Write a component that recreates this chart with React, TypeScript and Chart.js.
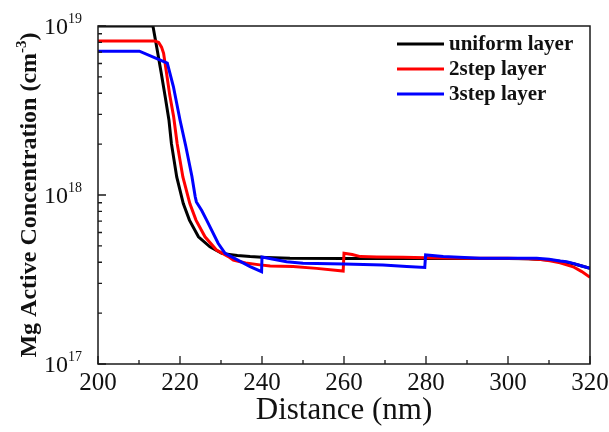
import React, { useEffect, useRef } from "react";
import { Chart, registerables } from "chart.js";

Chart.register(...registerables);

// ---------- data ----------
const uniformX = [200, 213.4, 214.4, 215.4, 216.4, 217.3, 217.9, 219.2, 220.8, 222.3, 224.5, 227.3, 230.2, 232, 234, 237.1, 241, 246.8, 260, 280, 300, 305, 310, 313, 316, 318, 320];
const uniformY = [1e19, 1e19, 7.3e18, 5.3e18, 3.8e18, 2.78e18, 2.02e18, 1.28e18, 8.9e17, 7.1e17, 5.66e17, 4.94e17, 4.52e17, 4.45e17, 4.38e17, 4.32e17, 4.27e17, 4.22e17, 4.21e17, 4.21e17, 4.21e17, 4.2e17, 4.12e17, 4.04e17, 3.92e17, 3.8e17, 3.68e17];

const step2X = [200, 213.9, 214.8, 215.5, 216.0, 216.6, 217.5, 218.45, 219.3, 220.7, 222.4, 223.9, 226.1, 228.9, 231.8, 233, 236, 239.5, 242, 247.6, 253.3, 259.8, 260.0, 262, 264, 268, 274.4, 280, 290, 300, 305, 308, 310.2, 312.7, 315.9, 318, 320];
const step2Y = [8.15e18, 8.15e18, 8.0e18, 7.5e18, 6.9e18, 5.5e18, 3.9e18, 2.9e18, 2.02e18, 1.28e18, 8.9e17, 7.1e17, 5.66e17, 4.73e17, 4.32e17, 4.12e17, 3.96e17, 3.86e17, 3.8e17, 3.77e17, 3.68e17, 3.55e17, 4.52e17, 4.45e17, 4.32e17, 4.3e17, 4.28e17, 4.25e17, 4.23e17, 4.22e17, 4.2e17, 4.15e17, 4.08e17, 3.97e17, 3.76e17, 3.52e17, 3.26e17];

const step3X = [200, 210.1, 216.9, 218.4, 220.0, 221.4, 222.9, 223.7, 224.0, 225.3, 226.5, 229.3, 231, 234.1, 237.1, 239.9, 240.0, 242.8, 246, 250, 260, 269.5, 275.3, 279.7, 279.9, 284.2, 293.2, 307, 310, 312.7, 314.3, 315.9, 318, 320];
const step3Y = [7.1e18, 7.1e18, 6.03e18, 4.37e18, 2.78e18, 1.95e18, 1.29e18, 9.8e17, 9.1e17, 8.1e17, 7.1e17, 5.18e17, 4.52e17, 4.12e17, 3.77e17, 3.52e17, 4.3e17, 4.17e17, 4.03e17, 3.94e17, 3.91e17, 3.85e17, 3.77e17, 3.73e17, 4.42e17, 4.32e17, 4.22e17, 4.22e17, 4.17e17, 4.07e17, 4.03e17, 3.94e17, 3.8e17, 3.68e17];

const seriesLabels = ["uniform layer", "2step layer", "3step layer"];
const seriesColors = ["#000000", "#ff0000", "#0000ff"];

const xMajorTicks = [200, 220, 240, 260, 280, 300, 320];
const xMinorTicks = [210, 230, 250, 270, 290, 310];
const yMajorTicks = [1e17, 1e18, 1e19];
const yMajorExponents = ["17", "18", "19"];
const yMinorTicks = [2e17, 3e17, 4e17, 5e17, 6e17, 7e17, 8e17, 9e17, 2e18, 3e18, 4e18, 5e18, 6e18, 7e18, 8e18, 9e18];

const xTitle = "Distance (nm)";
const yTitleMain = "Mg Active Concentration (cm";
const yTitleSup = "-3";
const yTitleEnd = ")";

const SERIF = "'Liberation Serif', 'Times New Roman', serif";

function toPoints(xs: number[], ys: number[]) {
  return xs.map((x, i) => ({ x, y: ys[i] }));
}

const decorPlugin = {
  id: "decor",
  afterDatasetsDraw(chart: any) {
    const { ctx, chartArea: a } = chart;
    const xs = chart.scales.x;
    const ys = chart.scales.y;
    ctx.save();

    // frame
    ctx.strokeStyle = "#1a1a1a";
    ctx.lineWidth = 1.5;
    ctx.strokeRect(a.left, a.top, a.right - a.left, a.bottom - a.top);

    // ticks (inward)
    ctx.lineWidth = 1.3;
    ctx.beginPath();
    xMajorTicks.forEach((v) => {
      const px = xs.getPixelForValue(v);
      ctx.moveTo(px, a.bottom);
      ctx.lineTo(px, a.bottom - 8);
    });
    xMinorTicks.forEach((v) => {
      const px = xs.getPixelForValue(v);
      ctx.moveTo(px, a.bottom);
      ctx.lineTo(px, a.bottom - 4);
    });
    yMajorTicks.forEach((v) => {
      const py = ys.getPixelForValue(v);
      ctx.moveTo(a.left, py);
      ctx.lineTo(a.left + 8, py);
    });
    yMinorTicks.forEach((v) => {
      const py = ys.getPixelForValue(v);
      ctx.moveTo(a.left, py);
      ctx.lineTo(a.left + 4, py);
    });
    ctx.stroke();

    // x tick labels
    ctx.fillStyle = "#111";
    ctx.font = `25px ${SERIF}`;
    ctx.textAlign = "center";
    ctx.textBaseline = "middle";
    xMajorTicks.forEach((v) => {
      ctx.fillText(String(v), xs.getPixelForValue(v), a.bottom + 19);
    });

    // y tick labels: 10^n
    yMajorTicks.forEach((v, i) => {
      const py = ys.getPixelForValue(v);
      ctx.font = `14px ${SERIF}`;
      const supW = ctx.measureText(yMajorExponents[i]).width;
      const right = a.left - 16;
      ctx.textAlign = "left";
      ctx.textBaseline = "alphabetic";
      ctx.fillText(yMajorExponents[i], right - supW, py - 3);
      ctx.font = `24px ${SERIF}`;
      ctx.textAlign = "right";
      ctx.fillText("10", right - supW, py + 8);
    });

    // x title
    ctx.font = `31px ${SERIF}`;
    ctx.textAlign = "center";
    ctx.textBaseline = "middle";
    ctx.fillText(xTitle, (a.left + a.right) / 2, 411);

    // y title (rotated, with superscript)
    ctx.save();
    ctx.translate(28, (a.top + a.bottom) / 2);
    ctx.rotate(-Math.PI / 2);
    ctx.textAlign = "left";
    ctx.textBaseline = "alphabetic";
    ctx.font = `bold 24px ${SERIF}`;
    const w1 = ctx.measureText(yTitleMain).width;
    const w3 = ctx.measureText(yTitleEnd).width;
    ctx.font = `bold 15px ${SERIF}`;
    const w2 = ctx.measureText(yTitleSup).width;
    const total = w1 + w2 + w3;
    let cx = -total / 2;
    const base = 8;
    ctx.font = `bold 24px ${SERIF}`;
    ctx.fillText(yTitleMain, cx, base);
    cx += w1;
    ctx.font = `bold 15px ${SERIF}`;
    ctx.fillText(yTitleSup, cx, base - 10);
    cx += w2;
    ctx.font = `bold 24px ${SERIF}`;
    ctx.fillText(yTitleEnd, cx, base);
    ctx.restore();

    // legend
    const rows = [44, 69, 94];
    chart.data.datasets.forEach((ds: any, i: number) => {
      const yy = rows[i];
      ctx.strokeStyle = ds.borderColor;
      ctx.lineWidth = 3;
      ctx.beginPath();
      ctx.moveTo(397, yy);
      ctx.lineTo(444, yy);
      ctx.stroke();
      ctx.fillStyle = "#111";
      ctx.font = `bold 21px ${SERIF}`;
      ctx.textAlign = "left";
      ctx.textBaseline = "middle";
      ctx.fillText(ds.label, 449, yy + 1);
    });

    ctx.restore();
  },
};

export default function App() {
  const ref = useRef<HTMLCanvasElement | null>(null);

  useEffect(() => {
    if (!ref.current) return;
    const data = [
      toPoints(uniformX, uniformY),
      toPoints(step2X, step2Y),
      toPoints(step3X, step3Y),
    ];
    const chart = new Chart(ref.current, {
      type: "line",
      data: {
        datasets: data.map((d, i) => ({
          label: seriesLabels[i],
          data: d,
          borderColor: seriesColors[i],
          backgroundColor: seriesColors[i],
          borderWidth: 3,
          pointRadius: 0,
          tension: 0,
          fill: false,
          order: 3 - i,
        })),
      },
      options: {
        animation: false,
        responsive: false,
        devicePixelRatio: 1,
        layout: { padding: { left: 98, right: 19, top: 26, bottom: 68 } },
        plugins: { legend: { display: false }, tooltip: { enabled: false } },
        scales: {
          x: { type: "linear", min: 200, max: 320, display: false },
          y: { type: "logarithmic", min: 1e17, max: 1e19, display: false },
        },
      },
      plugins: [decorPlugin],
    });
    return () => chart.destroy();
  }, []);

  return (
    <div style={{ position: "absolute", left: 0, top: 0, width: 609, height: 432, background: "#fff" }}>
      <canvas ref={ref} width={609} height={432} style={{ display: "block" }} />
    </div>
  );
}
